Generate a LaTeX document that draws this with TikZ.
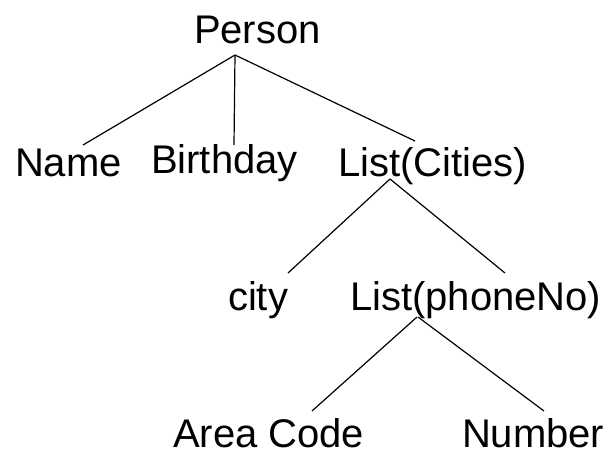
\documentclass[tikz,border=0pt]{standalone}
\usepackage{fontspec}
\setmainfont{Liberation Sans}
\begin{document}
\begin{tikzpicture}[x=1pt,y=-1pt,
  label/.style={anchor=base west,inner sep=0pt,outer sep=0pt,font=\fontsize{40}{48}\selectfont},
  edge/.style={line width=1.2pt,black}]
\useasboundingbox (0,0) rectangle (608,448);
% tree labels
\node[label] (person) at (194,43) {Person};
\node[label] (name) at (15,176) {Name};
\node[label] (birthday) at (151,173) {Birthday};
\node[label] (cities) at (338,176) {List(Cities)};
\node[label] (city) at (228,310) {city};
\node[label] (phone) at (350,310) {List(phoneNo)};
\node[label] (area) at (173,447) {Area Code};
\node[label] (number) at (462,447) {Number};
% branch points and line ends
\coordinate (personRoot) at (235,55);
\coordinate (nameTop) at (83,145);
\coordinate (birthdayTop) at (234,145);
\coordinate (citiesTop) at (415,141);
\coordinate (citiesRoot) at (390,179);
\coordinate (cityTop) at (288,273);
\coordinate (phoneTop) at (505,273);
\coordinate (phoneRootL) at (417,317);
\coordinate (phoneRootR) at (418,317);
\coordinate (areaTop) at (312,411);
\coordinate (numberTop) at (544,411);
% branches
\draw[edge] (personRoot) -- (nameTop);
\draw[edge] (personRoot) -- (birthdayTop);
\draw[edge] (personRoot) -- (citiesTop);
\draw[edge] (citiesRoot) -- (cityTop);
\draw[edge] (citiesRoot) -- (phoneTop);
\draw[edge] (phoneRootL) -- (areaTop);
\draw[edge] (phoneRootR) -- (numberTop);
\end{tikzpicture}
\end{document}
